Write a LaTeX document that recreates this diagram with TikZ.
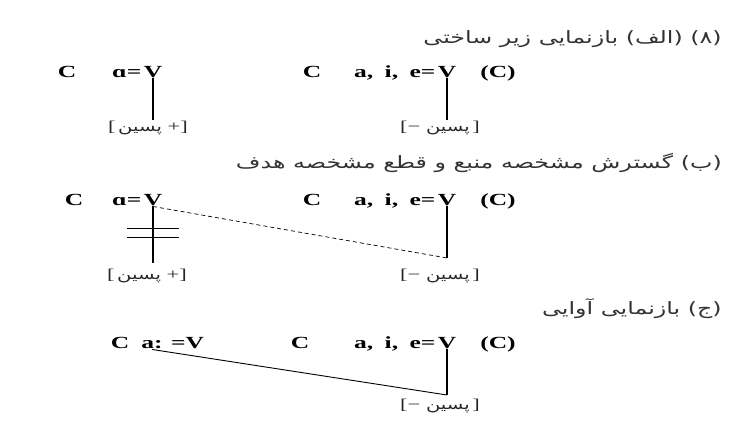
\documentclass[tikz,border=0pt]{standalone}
\usepackage{fontspec}
\setmainfont[FakeStretch=1.5]{Liberation Serif}
\newfontfamily\persfont[Script=Arabic,FakeStretch=1.4]{DejaVu Sans}
\TeXXeTstate=1
\usepackage{tikz}

\tikzset{
  seg/.style={font=\fontsize{17}{20}\selectfont\bfseries,inner sep=1pt,anchor=base},
  feat/.style={font=\fontsize{15}{17}\selectfont,inner sep=1pt,color=black!85},
  heading/.style={font=\persfont\fontsize{17}{20}\selectfont,color=black!80,anchor=east,inner sep=0pt},
  link/.style={line width=1.2pt}
}
\newcommand{\plusback}{[\,{\persfont\fontsize{14}{16}\selectfont پسین}\ +]}
\newcommand{\minusback}{[−\ {\persfont\fontsize{14}{16}\selectfont پسین}\,]}
\newcommand{\frontset}{a,\hspace{5pt} i,\hspace{5pt} e=}

\begin{document}
\begin{tikzpicture}[x=1pt,y=-1pt]
        \useasboundingbox[fill=white] (0,0) rectangle (738,426);
        % (8a) underlying representation
        \node[heading] (t1) at (722,39) {\beginR(۸) (الف) بازنمایی زیر ساختی\endR};
        \node[seg] (c1) at (67,77) {C};
        \node[seg] (v1) at (153,77) {V};
        \node[seg,anchor=base east] (a1) at (v1.base west) {ɑ=};
        \node[seg] (cr1) at (312,77) {C};
        \node[seg] (vr1) at (447,77) {V};
        \node[seg,anchor=base east] (ar1) at (vr1.base west) {\frontset};
        \node[seg] (pc1) at (498,77) {(C)};
        \node[feat] (f1) at (148,128) {\plusback};
        \node[feat] (fr1) at (440,128) {\minusback};
        \draw[link] (v1.south) -- (v1.south |- f1.north);
        \draw[link] (vr1.south) -- (vr1.south |- fr1.north);
        % (8b) spreading of the source feature, delinking of the target
        \node[heading] (t2) at (722,163) {\beginR(ب) گسترش مشخصه منبع و قطع مشخصه هدف\endR};
        \node[seg] (c2) at (74,205) {C};
        \node[seg] (v2) at (153,205) {V};
        \node[seg,anchor=base east] (a2) at (v2.base west) {ɑ=};
        \node[seg] (cr2) at (312,205) {C};
        \node[seg] (vr2) at (447,205) {V};
        \node[seg,anchor=base east] (ar2) at (vr2.base west) {\frontset};
        \node[seg] (pc2) at (498,205) {(C)};
        \node[feat] (f2) at (147,276) {\plusback};
        \node[feat] (fr2) at (440,276) {\minusback};
        \coordinate (foot2) at (447,258);
        \draw[link] (v2.south) -- (v2.south |- f2.north) [shorten >=5pt];
        \draw[link] (vr2.south) -- (foot2);
        \draw[line width=0.7pt,dash pattern=on 4pt off 3pt] (v2.south) -- (foot2);
        \draw[line width=0.9pt] (127,228) -- (179,228);
        \draw[line width=0.9pt] (127,237) -- (179,237);
        % (8c) phonetic representation
        \node[heading] (t3) at (722,309) {\beginR(ج) بازنمایی آوایی\endR};
        \node[seg] (c3) at (120,348) {C};
        \node[seg] (a3) at (152,348) {a:};
        \node[seg,anchor=base west] (v3) at ([xshift=6pt]a3.base east) {=V};
        \node[seg] (cr3) at (300,348) {C};
        \node[seg] (vr3) at (447,348) {V};
        \node[seg,anchor=base east] (ar3) at (vr3.base west) {\frontset};
        \node[seg] (pc3) at (498,348) {(C)};
        \node[feat] (fr3) at (440,406) {\minusback};
        \coordinate (foot3) at (447,395);
        \draw[link] (vr3.south) -- (foot3);
        \draw[line width=0.9pt] (a3.south) -- (foot3);
      \end{tikzpicture}
\end{document}
